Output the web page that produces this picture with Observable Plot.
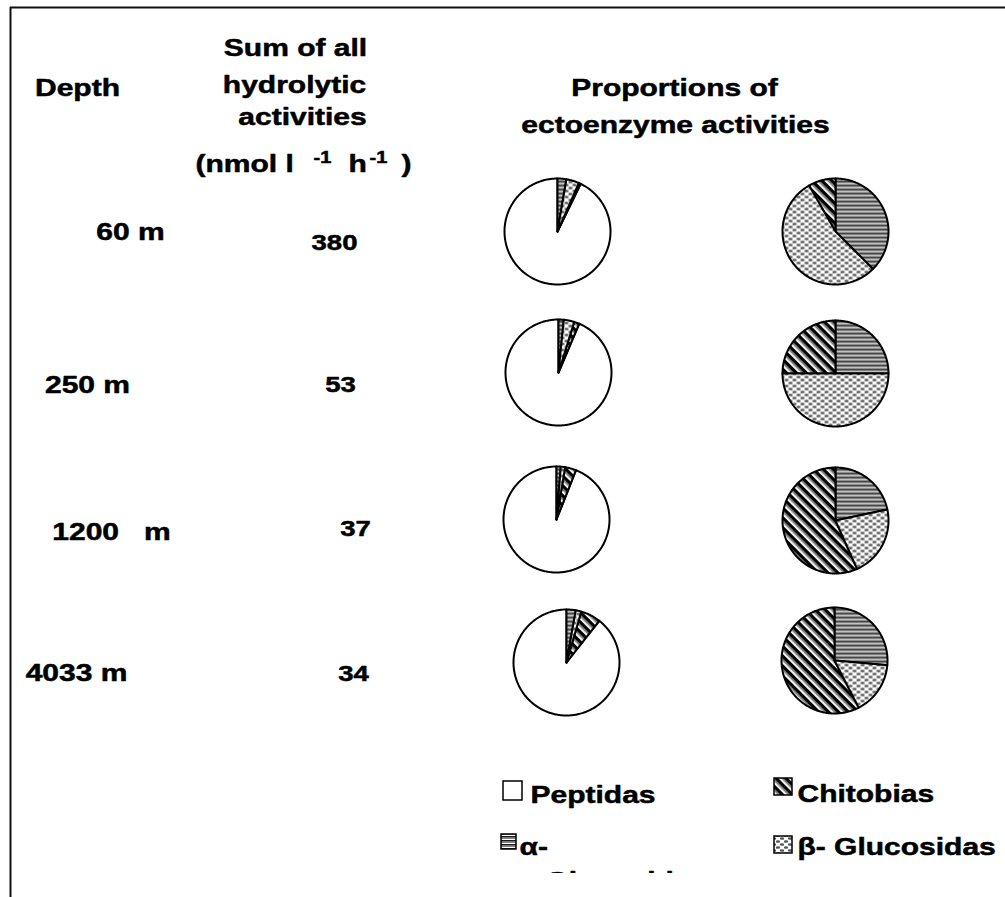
<!DOCTYPE html>
<html><head><meta charset="utf-8">
<script src="https://cdn.jsdelivr.net/npm/d3@7"></script>
<script src="https://cdn.jsdelivr.net/npm/@observablehq/plot@0.6"></script>
<style>
html,body{margin:0;padding:0;background:#fff;}
#chart{width:1005px;height:897px;overflow:hidden;}
</style></head><body><div id="chart"></div>
<script>
// ---------------- data ----------------
const depths = ["60 m", "250 m", "1200   m", "4033 m"];
const sums = [380, 53, 37, 34];
const enzymes = ["Peptidas", "α-Glucosidas", "Chitobias", "β- Glucosidas"];
// percentage of all hydrolytic activity (left pies)
const peptidase        = [92.8, 93.6, 94.0, 89.4];
const alphaGlucosidase = [2.7, 1.6, 1.3, 2.8];
const betaGlucosidase  = [3.9, 3.2, 1.3, 1.7];
const chitobiase       = [0.6, 1.6, 3.4, 6.1];
const headerDepth = "Depth";
const headerSum = ["Sum of all", "hydrolytic", "activities"];
const headerUnit = ["(nmol l", "-1", "h", "-1", ")"];
const headerProp = ["Proportions of", "ectoenzyme activities"];

// ---------------- layout ----------------
const W = 1005, H = 897;
const FONT = "'Liberation Sans', Arial, Helvetica, sans-serif";
const STRETCH = 1.25;
const R = 53;
const leftPieX = [557, 558, 556, 566], leftPieY = [231, 372, 519, 662];
const rightPieX = [835, 835, 835, 834], rightPieY = [231, 373, 520, 660];
const depthLabelX = [130, 87, 111, 76], depthLabelY = [232, 385, 532, 673];
const sumLabelX = [334, 340, 355, 353], sumLabelY = [242, 384, 528, 673];

const valuesOf = {
  "Peptidas": peptidase,
  "α-Glucosidas": alphaGlucosidase,
  "Chitobias": chitobiase,
  "β- Glucosidas": betaGlucosidase
};
const fillOf = {
  "Peptidas": "white",
  "α-Glucosidas": "url(#pAlpha)",
  "Chitobias": "url(#pChito)",
  "β- Glucosidas": "url(#pBeta)"
};
const sliceOrder = ["α-Glucosidas", "β- Glucosidas", "Chitobias", "Peptidas"];

// build slice outlines (in data units of the x/y scales)
const slicePts = [];
function addPie(i, cx, cy, list, tag) {
  const arcs = d3.pie().sort(null).value(e => valuesOf[e][i])(list);
  arcs.forEach(a => {
    const id = `${tag}-${i}-${a.data}`;
    const n = Math.max(2, Math.ceil((a.endAngle - a.startAngle) / (Math.PI / 180)) + 1);
    slicePts.push({id, enzyme: a.data, x: cx, y: cy});
    for (let k = 0; k <= n; k++) {
      const t = a.startAngle + (a.endAngle - a.startAngle) * k / n;
      slicePts.push({id, enzyme: a.data, x: cx + R * Math.sin(t), y: cy - R * Math.cos(t)});
    }
    slicePts.push({id, enzyme: a.data, x: cx, y: cy});
  });
}
depths.forEach((d, i) => {
  addPie(i, leftPieX[i], leftPieY[i], sliceOrder, "all");
  addPie(i, rightPieX[i], rightPieY[i], sliceOrder.filter(e => e !== "Peptidas"), "sub");
});

const rows = depths.map((d, i) => ({depth: d, sum: sums[i], dx: depthLabelX[i], dy: depthLabelY[i], sx: sumLabelX[i], sy: sumLabelY[i]}));

const headerTexts = [
  {t: headerDepth, x: 77, y: 88, s: 24, a: "middle"},
  {t: headerSum[0], x: 295, y: 48, s: 24, a: "middle"},
  {t: headerSum[1], x: 294, y: 85, s: 24, a: "middle"},
  {t: headerSum[2], x: 302, y: 117, s: 24, a: "middle"},
  {t: headerUnit[0], x: 195, y: 164, s: 24, a: "start"},
  {t: headerUnit[1], x: 313, y: 157, s: 16, a: "start"},
  {t: headerUnit[2], x: 348, y: 164, s: 24, a: "start"},
  {t: headerUnit[3], x: 369, y: 157, s: 16, a: "start"},
  {t: headerUnit[4], x: 401, y: 164, s: 24, a: "start"},
  {t: headerProp[0], x: 674, y: 88, s: 24, a: "middle"},
  {t: headerProp[1], x: 675, y: 125, s: 24, a: "middle"}
];

const legendItems = [
  {enzyme: "Peptidas", label: "Peptidas", bx: 503, by: 781, bw: 19, bh: 19, tx: 530, ty: 795},
  {enzyme: "Chitobias", label: "Chitobias", bx: 774, by: 778, bw: 18, bh: 17, tx: 797, ty: 794},
  {enzyme: "α-Glucosidas", label: "α-", bx: 501, by: 834, bw: 15, bh: 15, tx: 519, ty: 847},
  {enzyme: "β- Glucosidas", label: "β- Glucosidas", bx: 774, by: 836, bw: 18, bh: 17, tx: 797, ty: 847}
];
const legendOverflow = [{t: "Glucosidas", x: 545, y: 881}];

const textStyle = {fontWeight: "bold", fill: "black", stroke: "black", strokeWidth: 0.5};

const marks = [
  // frame of the slide
  Plot.ruleY([7], {x1: 10, x2: W, stroke: "#111", strokeWidth: 2}),
  Plot.ruleX([10], {y1: 7, y2: H, stroke: "#111", strokeWidth: 2}),
  // pie slices
  ...enzymes.map(e => Plot.line(slicePts.filter(p => p.enzyme === e), {
    x: "x", y: "y", z: "id", fill: fillOf[e], stroke: "black", strokeWidth: 2,
    strokeLinejoin: "round", curve: "linear"
  })),
  // headers
  ...headerTexts.map(h => Plot.text([h], {x: "x", y: "y", text: "t", fontSize: h.s, textAnchor: h.a, ...textStyle})),
  // row labels
  Plot.text(rows, {x: "dx", y: "dy", text: "depth", fontSize: 24, ...textStyle}),
  Plot.text(rows, {x: "sx", y: "sy", text: d => String(d.sum), fontSize: 22, ...textStyle}),
  // legend
  ...legendItems.map(l => Plot.rect([l], {x1: "bx", x2: d => d.bx + d.bw, y1: "by", y2: d => d.by + d.bh,
    fill: fillOf[l.enzyme], stroke: "black", strokeWidth: 1.5})),
  Plot.text(legendItems, {x: "tx", y: "ty", text: "label", fontSize: 24, textAnchor: "start", ...textStyle}),
  Plot.text(legendOverflow, {x: "x", y: "y", text: "t", fontSize: 24, textAnchor: "start", ...textStyle}),
  // legend box clips the wrapped label
  Plot.rect([{x1: 530, x2: 730, y1: 873, y2: H}], {x1: "x1", x2: "x2", y1: "y1", y2: "y2", fill: "white"})
];

const svg = Plot.plot({
  width: W, height: H, margin: 0,
  style: {fontFamily: FONT, background: "white"},
  x: {domain: [0, W], range: [0, W], axis: null},
  y: {domain: [0, H], range: [0, H], axis: null},
  marks
});

// patterns
const defs = document.createElementNS("http://www.w3.org/2000/svg", "defs");
defs.innerHTML = `
<pattern id="pAlpha" patternUnits="userSpaceOnUse" width="8" height="4">
  <rect width="8" height="4" fill="white"/>
  <rect y="0" width="8" height="1.6" fill="#1a1a1a"/>
  <rect y="1.6" width="8" height="1.3" fill="#777"/>
</pattern>
<pattern id="pBeta" patternUnits="userSpaceOnUse" width="8" height="6">
  <rect width="8" height="6" fill="white"/>
  <ellipse cx="2" cy="1.5" rx="2.2" ry="1.3" fill="#555"/>
  <ellipse cx="6" cy="4.5" rx="2.2" ry="1.3" fill="#555"/>
</pattern>
<pattern id="pChito" patternUnits="userSpaceOnUse" width="7" height="7" patternTransform="rotate(45)">
  <rect width="7" height="7" fill="white"/>
  <rect y="0" width="7" height="3.6" fill="#000"/>
  <rect y="3.6" width="7" height="1.6" fill="#8a8a8a"/>
</pattern>`;
svg.insertBefore(defs, svg.firstChild);

// slide fonts are horizontally stretched: scale each text about its anchor
svg.querySelectorAll("text").forEach(t => {
  const tr = t.getAttribute("transform");
  if (tr && tr.includes("translate")) t.setAttribute("transform", `${tr} scale(${STRETCH},1)`);
});

document.getElementById("chart").appendChild(svg);
</script></body></html>
